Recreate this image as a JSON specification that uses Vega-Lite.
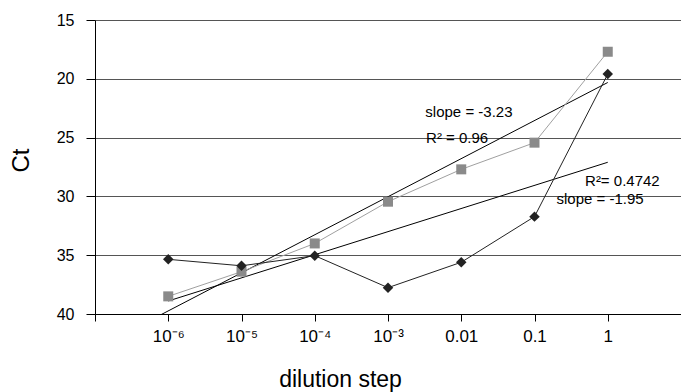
{
  "$schema": "https://vega.github.io/schema/vega-lite/v6.json",
  "width": 586,
  "height": 294,
  "autosize": {"type": "none"},
  "padding": {"left": 95, "top": 20, "right": 0, "bottom": 78},
  "background": "white",
  "config": {
    "view": {"stroke": null},
    "font": "Liberation Sans",
    "axis": {"titleFontWeight": "normal", "labelColor": "black", "titleColor": "black"}
  },
  "datasets": {
    "ct": [
      {"step": 1, "series": "sq", "ct": 38.5},
      {"step": 2, "series": "sq", "ct": 36.4},
      {"step": 3, "series": "sq", "ct": 34.0},
      {"step": 4, "series": "sq", "ct": 30.45},
      {"step": 5, "series": "sq", "ct": 27.7},
      {"step": 6, "series": "sq", "ct": 25.43},
      {"step": 7, "series": "sq", "ct": 17.7},
      {"step": 1, "series": "dia", "ct": 35.35},
      {"step": 2, "series": "dia", "ct": 35.9},
      {"step": 3, "series": "dia", "ct": 35.04},
      {"step": 4, "series": "dia", "ct": 37.76},
      {"step": 5, "series": "dia", "ct": 35.6},
      {"step": 6, "series": "dia", "ct": 31.72},
      {"step": 7, "series": "dia", "ct": 19.6}
    ],
    "notes": [
      {"step": 4.51, "ct": 22.8, "text": "slope = -3.23"},
      {"step": 4.52, "ct": 25.0, "text": "R² = 0.96"},
      {"step": 6.69, "ct": 28.7, "text": "R²= 0.4742"},
      {"step": 6.30, "ct": 30.2, "text": "slope = -1.95"}
    ]
  },
  "data": {"name": "ct"},
  "encoding": {
    "x": {
      "field": "step",
      "type": "quantitative",
      "scale": {"domain": [0, 8], "nice": false, "zero": false},
      "axis": {
        "values": [0, 1, 2, 3, 4, 5, 6, 7],
        "labelExpr": "['', '10⁻⁶', '10⁻⁵', '10⁻⁴', '10⁻³', '0.01', '0.1', '1'][datum.value]",
        "grid": false,
        "domainColor": "black",
        "tickColor": "black",
        "tickSize": 7,
        "labelFontSize": 17,
        "labelPadding": 7,
        "labelFlush": false,
        "labelOverlap": false,
        "title": "dilution step",
        "titleFontSize": 23,
        "titleX": 245,
        "titleY": 72,
        "titleAlign": "center",
        "titleBaseline": "alphabetic"
      }
    },
    "y": {
      "field": "ct",
      "type": "quantitative",
      "scale": {"domain": [15, 40], "reverse": true, "nice": false, "zero": false},
      "axis": {
        "values": [15, 20, 25, 30, 35, 40],
        "grid": true,
        "gridColor": "#555555",
        "gridWidth": 1,
        "domainColor": "black",
        "tickColor": "black",
        "tickSize": 9,
        "labelFontSize": 16,
        "labelPadding": 12,
        "title": "Ct",
        "titleFontSize": 24,
        "titleX": -74,
        "titleY": 140,
        "titleAngle": -90,
        "titleAlign": "center",
        "titleBaseline": "middle"
      }
    }
  },
  "layer": [
    {
      "transform": [
        {"filter": "datum.series === 'sq'"},
        {"regression": "ct", "on": "step", "extent": [0.9, 7]}
      ],
      "mark": {"type": "line", "color": "black", "strokeWidth": 1, "clip": true}
    },
    {
      "transform": [
        {"filter": "datum.series === 'dia'"},
        {"regression": "ct", "on": "step", "extent": [1, 7]}
      ],
      "mark": {"type": "line", "color": "black", "strokeWidth": 1, "clip": true}
    },
    {
      "transform": [{"filter": "datum.series === 'sq'"}],
      "mark": {"type": "line", "color": "#a0a0a0", "strokeWidth": 1}
    },
    {
      "transform": [{"filter": "datum.series === 'dia'"}],
      "mark": {"type": "line", "color": "#222222", "strokeWidth": 1}
    },
    {
      "transform": [{"filter": "datum.series === 'sq'"}],
      "mark": {"type": "point", "shape": "square", "size": 100, "filled": true, "color": "#8a8a8a", "opacity": 1}
    },
    {
      "transform": [{"filter": "datum.series === 'dia'"}],
      "mark": {"type": "point", "shape": "diamond", "size": 110, "filled": true, "color": "#222222", "opacity": 1}
    },
    {
      "data": {"name": "notes"},
      "mark": {"type": "text", "align": "left", "baseline": "middle", "fontSize": 15, "color": "black"},
      "encoding": {"text": {"field": "text", "type": "nominal"}}
    }
  ]
}
